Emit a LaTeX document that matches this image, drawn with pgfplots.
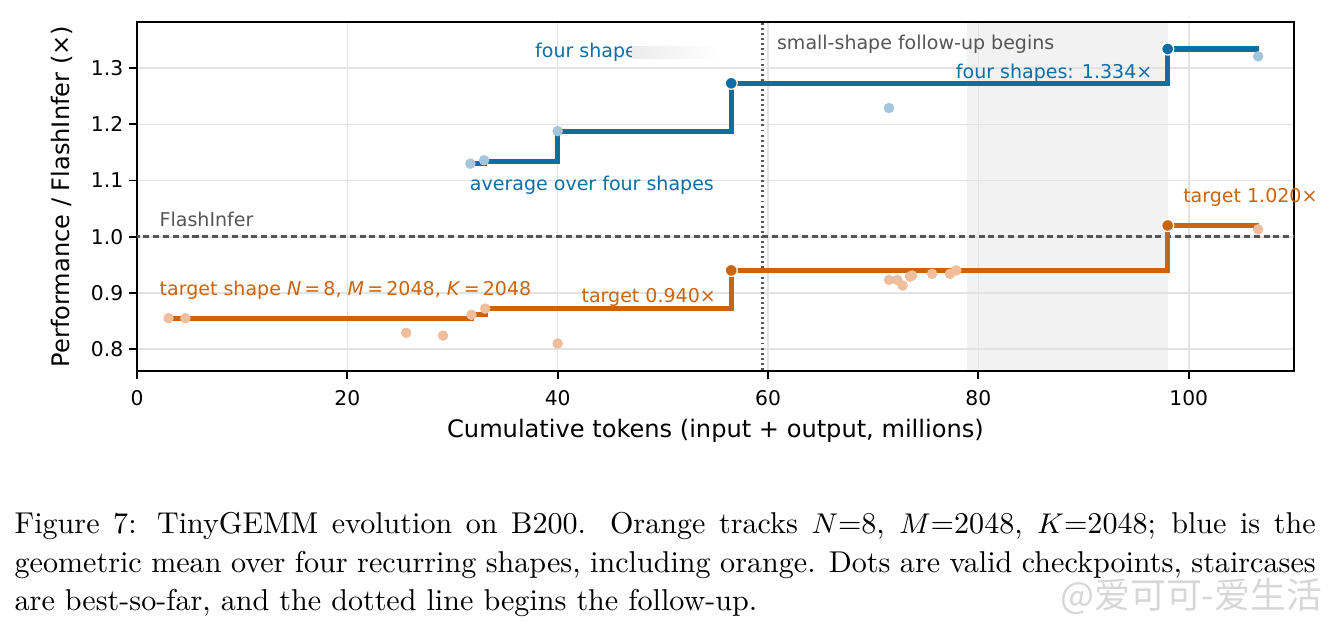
\documentclass[border=0pt]{standalone}
\usepackage{fontspec}
\usepackage{pgfplots}
\pgfplotsset{compat=1.18}
\newfontfamily\dejavu{DejaVu Sans}
\newfontfamily\cjk{Noto Sans CJK SC}
\definecolor{cblue}{HTML}{0D6EA5}
\definecolor{corange}{HTML}{C9640F}
\definecolor{lblue}{HTML}{A3C6DD}
\definecolor{lorange}{HTML}{F0BE9C}
\definecolor{dgray}{HTML}{555555}
\definecolor{shadec}{HTML}{F2F2F2}
\definecolor{gridc}{HTML}{E3E3E3}
\pgfplotsset{set layers}
\begin{document}
\begin{tikzpicture}
\begin{axis}[
  at={(0pt,0pt)}, anchor=south west,
  scale only axis, width=365.0pt, height=110.1pt,
  xmin=0, xmax=110, ymin=0.761, ymax=1.382,
  xtick={0,20,40,60,80,100},
  ytick={0.8,0.9,1.0,1.1,1.2,1.3},
  xtick pos=lower, ytick pos=left,
  tick align=outside, major tick length=2.6pt,
  axis line style={black, line width=0.8pt},
  every tick/.style={black, line width=0.6pt},
  grid=major, major grid style={gridc, line width=0.5pt},
  /pgf/number format/assume math mode=true,
  ticklabel style={font=\dejavu\fontsize{6.4}{7}\selectfont},
  yticklabel style={/pgf/number format/.cd, fixed, fixed zerofill, precision=1, /tikz/xshift=1.8pt},
  xticklabel style={/pgf/number format/.cd, fixed, precision=0},
  xlabel={Cumulative tokens (input + output, millions)},
  ylabel={Performance / FlashInfer (\texttimes)},
  label style={font=\dejavu\fontsize{7.6}{9}\selectfont},
  xlabel style={at={(axis description cs:0.5,-0.172)}, anchor=center},
  ylabel style={at={(axis description cs:-0.0648,0.5)}, anchor=center},
]
% shaded follow-up window
\addplot[draw=none, fill=shadec, on layer=axis background] coordinates {(78.9,0.761) (98.0,0.761) (98.0,1.382) (78.9,1.382)};
% FlashInfer baseline
\addplot[dgray, line width=0.8pt, dash pattern=on 1.9pt off 1.2pt] coordinates {(-5,1.0) (115,1.0)};
% follow-up begins
\addplot[dgray, line width=0.9pt, dash pattern=on 0.6pt off 1.0pt] coordinates {(59.5,0.7) (59.5,1.45)};
% checkpoints (light dots)
\addplot[only marks, color=lorange, mark=*, mark size=1.45pt, mark options={draw=lorange, fill=lorange}] coordinates {
(3.0,0.855) (4.6,0.855) (25.6,0.829) (29.1,0.824) (31.8,0.861) (33.1,0.872) (40.0,0.810)
(71.5,0.923) (72.3,0.923) (72.8,0.913) (73.5,0.929) (73.7,0.931) (75.6,0.934) (77.3,0.934) (77.9,0.940)
(106.6,1.013)};
\addplot[only marks, color=lblue, mark=*, mark size=1.45pt, mark options={draw=lblue, fill=lblue}] coordinates {
(31.7,1.130) (33.0,1.136) (40.0,1.188) (71.5,1.229) (106.6,1.321)};
% staircases
\addplot[cblue, line width=1.6pt, const plot, no marks] coordinates {
(31.7,1.130) (33.0,1.134) (40.0,1.187) (56.5,1.273) (98.0,1.334) (106.7,1.334)};
\addplot[corange, line width=1.6pt, const plot, no marks] coordinates {
(3.0,0.854) (31.8,0.861) (33.1,0.872) (56.5,0.940) (98.0,1.020) (106.7,1.020)};
% new-best markers
\addplot[only marks, color=cblue, mark=*, mark size=1.9pt, mark options={draw=white, line width=0.4pt, fill=cblue}] coordinates {(56.5,1.273) (98.0,1.334)};
\addplot[only marks, color=corange, mark=*, mark size=1.9pt, mark options={draw=white, line width=0.4pt, fill=corange}] coordinates {(56.5,0.940) (98.0,1.020)};
% annotations
\begin{scope}[every node/.style={font=\dejavu\fontsize{6}{7}\selectfont, inner sep=0pt}]
\node[anchor=west, text=cblue] at (axis cs:37.8,1.329) {four shapes};
\node[anchor=west, text=dgray] at (axis cs:60.8,1.342) {small-shape follow-up begins};
\node[anchor=east, text=cblue] at (axis cs:96.6,1.290) {four shapes: 1.334\texttimes};
\node[anchor=west, text=cblue] at (axis cs:31.6,1.0907) {average over four shapes};
\node[anchor=west, text=dgray] at (axis cs:2.1,1.030) {FlashInfer};
\node[anchor=west, text=corange] at (axis cs:2.1,0.904) {target shape \textit{N}\,=\,8, \textit{M}\,=\,2048, \textit{K}\,=\,2048};
\node[anchor=east, text=corange] at (axis cs:55.1,0.8915) {target 0.940\texttimes};
\end{scope}
\end{axis}
% label outside right edge
\node[anchor=west, text=corange, font=\dejavu\fontsize{6}{7}\selectfont, inner sep=0pt] at (329.9pt,54.9pt) {target 1.020\texttimes};
% faded patch after "four shapes"
\shade[left color=gray!15, right color=white, draw=none] (156.2pt,98.75pt) rectangle (183.9pt,102.5pt);
% caption
\node[anchor=base west, inner sep=0pt] at (-38.8pt,-51.4pt) {\parbox[t]{410.5pt}{\fontsize{9.5}{12.15}\selectfont
\hbox to \linewidth{Figure 7: TinyGEMM evolution on B200. Orange tracks $N$=8, $M$=2048, $K$=2048; blue is the}%
\hbox to \linewidth{geometric mean over four recurring shapes, including orange. Dots are valid checkpoints, staircases}%
\hbox{are best-so-far, and the dotted line begins the follow-up.}}};
% watermark
\node[anchor=base west, inner sep=0pt, text=gray!45, opacity=0.7] at (291.2pt,-74.8pt) {\cjk\fontsize{11.3}{12}\selectfont @爱可可-爱生活};
\pgfresetboundingbox
\path[use as bounding box] (-43.22pt,-79.5pt) rectangle (376.08pt,117.05pt);
\end{tikzpicture}
\end{document}
